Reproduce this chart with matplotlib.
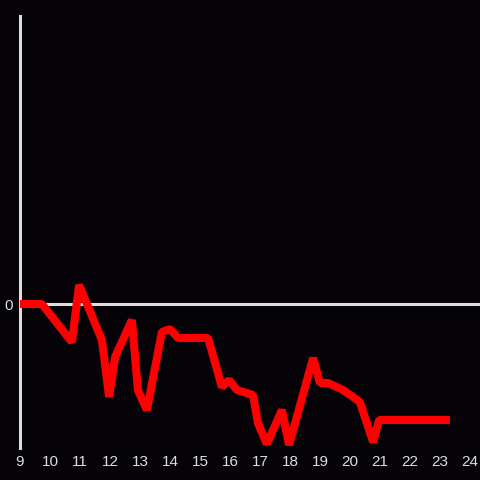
import matplotlib
matplotlib.use("Agg")
import matplotlib.pyplot as plt

# data (x in hours, y in arbitrary units, 0 baseline)
x = [9.0, 9.73, 10.73, 10.97, 11.73, 11.97, 12.17, 12.73, 12.93, 13.23, 13.73, 14.0,
     14.27, 15.27, 15.73, 15.97, 16.23, 16.77, 16.93, 17.23, 17.73, 17.97, 18.77,
     19.0, 19.27, 19.77, 20.1, 20.33, 20.77, 20.97, 23.33]
y = [0.0, 0.0, -3.8, 1.9, -3.6, -9.3, -5.3, -1.6, -8.6, -10.6, -2.8, -2.5,
     -3.4, -3.4, -8.3, -7.6, -8.6, -9.1, -11.9, -14.0, -10.6, -14.1, -5.4,
     -7.9, -7.9, -8.6, -9.3, -9.8, -13.8, -11.6, -11.6]
xticks = list(range(9, 25))
yticks = [0]

bg = "#050308"
fg = "#dddddd"

fig = plt.figure(figsize=(4.8, 4.8), dpi=100, facecolor=bg)
ax = fig.add_axes([20/480, 32/480, 460/480, 432/480])
ax.set_facecolor(bg)

ax.axhline(0, color=fg, lw=2.2, zorder=1)
ax.plot(x, y, color="#ff0000", lw=5.8, solid_joinstyle="bevel",
        solid_capstyle="butt", zorder=3, clip_on=False)

ax.set_xlim(9, 9 + 460/30)
ax.set_ylim(-14.4, 28.8)
ax.set_xticks(xticks)
ax.set_yticks(yticks)
ax.set_xticklabels([str(t) for t in xticks])
ax.tick_params(length=0, colors=fg, labelsize=11, pad=5)
for lab in ax.get_xticklabels() + ax.get_yticklabels():
    lab.set_family(["Liberation Sans", "DejaVu Sans"])
for s in ["top", "right", "bottom"]:
    ax.spines[s].set_visible(False)
ax.spines["left"].set_color(fg)
ax.spines["left"].set_linewidth(2.2)
ax.spines["left"].set_zorder(2)

fig.savefig("out.png", dpi=100, facecolor=bg)
